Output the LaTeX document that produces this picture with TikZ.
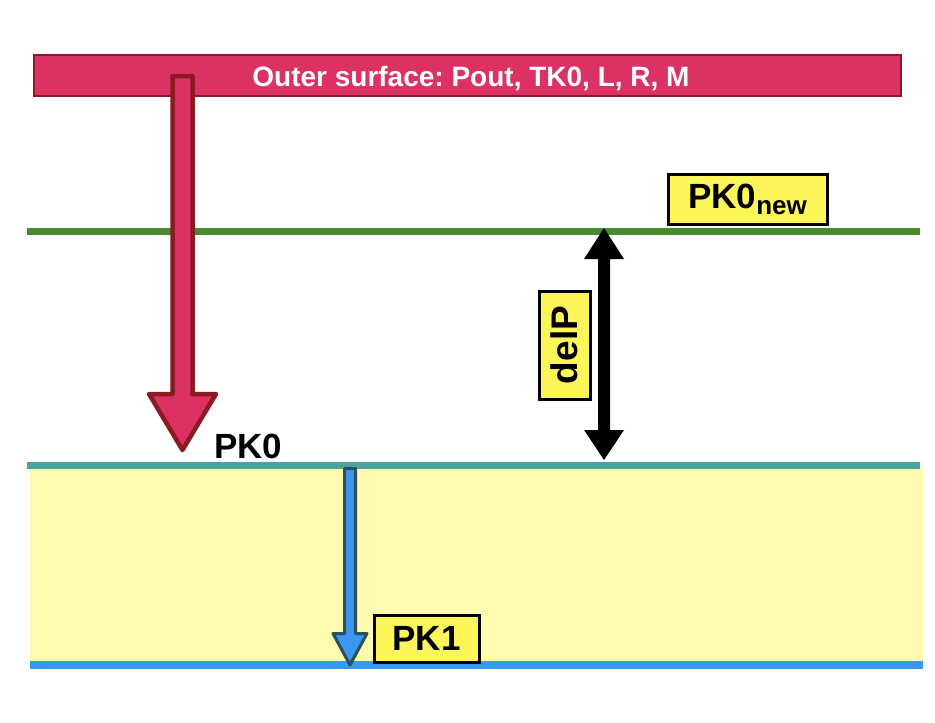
\documentclass[tikz,border=0pt]{standalone}
\usepackage{fontspec}
\setmainfont{Liberation Sans}
\usetikzlibrary{calc}
\frenchspacing
\definecolor{barred}{HTML}{DC3163}
\definecolor{darkred}{HTML}{8B1A22}
\definecolor{lgreen}{HTML}{4A8A2E}
\definecolor{lteal}{HTML}{4AA3A0}
\definecolor{lblue}{HTML}{3A96EE}
\definecolor{paleyellow}{HTML}{FFFBB0}
\definecolor{tagyellow}{HTML}{FDF65A}
\definecolor{darkteal}{HTML}{2B5060}
\tikzset{
  tagbox/.style={draw=black, line width=3pt, fill=tagyellow, inner sep=0pt,
    font=\fontsize{35}{36}\selectfont\bfseries, text=black},
  levelline/.style={line width=7pt},
}
\begin{document}
\begin{tikzpicture}[x=1pt,y=-1pt]
\useasboundingbox (0,0) rectangle (935,723);
% layer between PK0 and PK1
\fill[paleyellow] (30,468) rectangle (923,661);
% level lines
\coordinate (g1) at (27,231); \coordinate (g2) at (920,231);
\coordinate (t1) at (27,465.5); \coordinate (t2) at (920,465.5);
\coordinate (b1) at (30,665); \coordinate (b2) at (923,665);
\draw[levelline, lgreen] (g1) -- (g2);
\draw[levelline, lteal] (t1) -- (t2);
\draw[levelline, lblue, line width=8pt] (b1) -- (b2);
% outer surface bar
\node[draw=darkred, line width=2pt, fill=barred, minimum width=867pt, minimum height=41pt, inner sep=0pt] (bar) at (467.5,75.5) {};
\node[text=white, font=\fontsize{28}{30}\selectfont\bfseries, inner sep=0pt] (bartext) at (471,79) {Outer surface: Pout, TK0, L, R, M};
% big red arrow
\draw[draw=darkred, fill=barred, line width=4.5pt, line join=round]
  (172.5,76) -- (192.5,76) -- (192.5,394) -- (216,394) -- (182.5,450)
  -- (149,394) -- (172.5,394) -- cycle;
\node[font=\fontsize{35}{36}\selectfont\bfseries, anchor=base west, inner sep=0pt] (pk0) at (214,458) {PK0};
% double arrow delP
\coordinate (dtop) at (604,228); \coordinate (dbot) at (604,460);
\fill[black] (dtop) -- (624,259) -- (610,259) -- (610,430) -- (624,430) -- (dbot)
  -- (584,430) -- (598,430) -- (598,259) -- (584,259) -- cycle;
\node[tagbox, rotate=90, minimum width=108pt, minimum height=51pt, font=\fontsize{37}{38}\selectfont\bfseries] (delp) at (564.5,345) {delP};
% PK0new tag
\node[tagbox, minimum width=159pt, minimum height=50pt] (pk0new) at (747.5,199) {PK0\raisebox{-6pt}{\fontsize{26}{26}\selectfont\bfseries new}};
% blue arrow
\draw[draw=darkteal, fill=lblue, line width=3pt, line join=round]
  (344.5,468.5) -- (355.5,468.5) -- (355.5,633.5) -- (367,633.5) -- (350,665)
  -- (333,633.5) -- (344.5,633.5) -- cycle;
\node[tagbox, minimum width=105pt, minimum height=47pt] (pk1) at (426.5,638.5) {PK1};
\end{tikzpicture}
\end{document}
